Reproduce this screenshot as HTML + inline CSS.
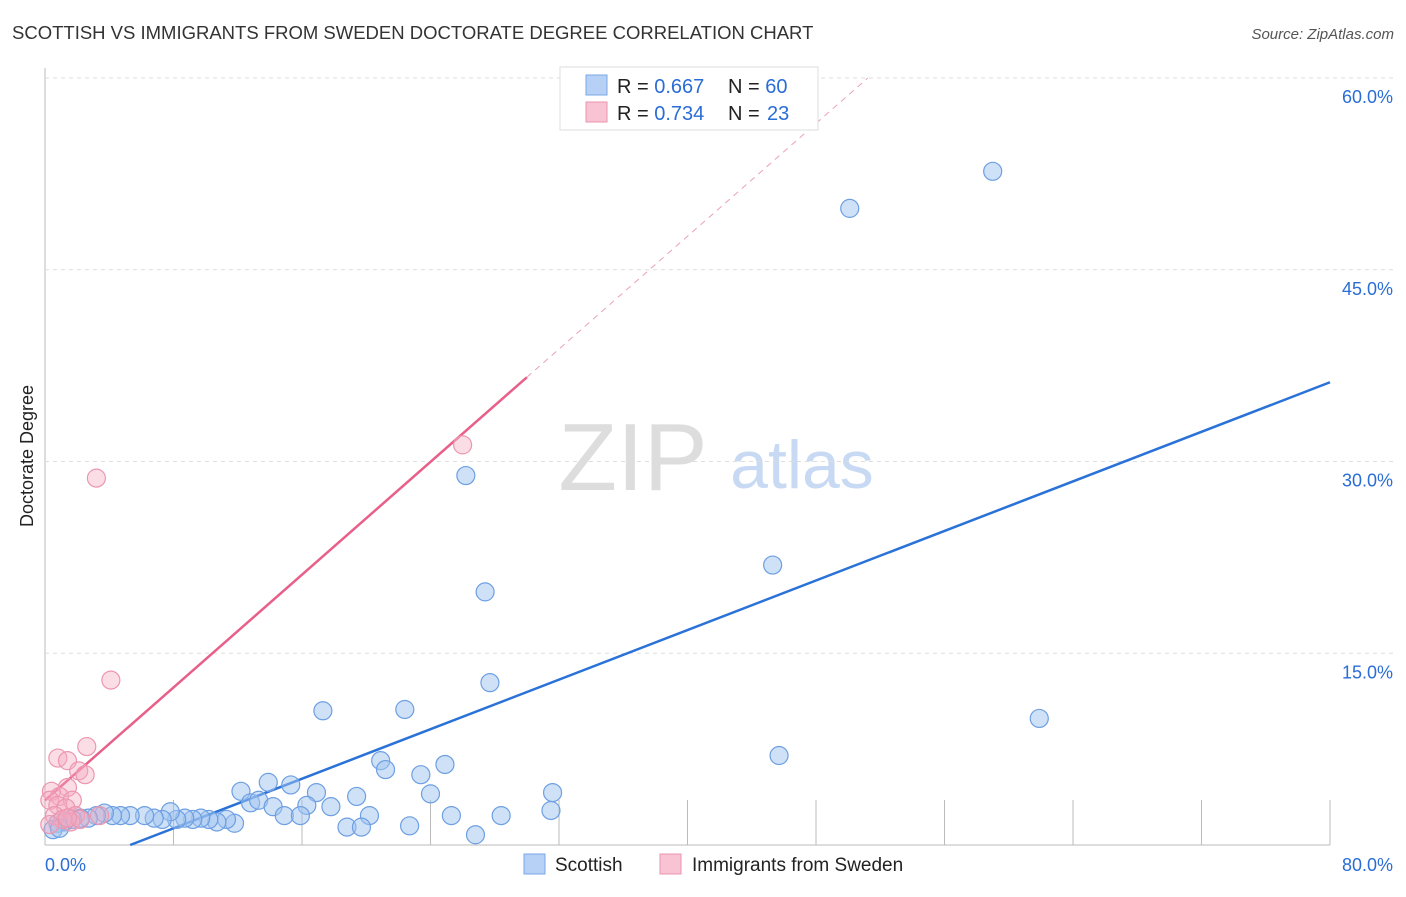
<!DOCTYPE html>
<html><head><meta charset="utf-8"><style>
body{margin:0;background:#fff;font-family:"Liberation Sans",sans-serif;}
svg text{font-family:"Liberation Sans",sans-serif;}
</style></head><body>
<svg id="chart" width="1406" height="892" viewBox="0 0 1406 892" xmlns="http://www.w3.org/2000/svg">
<text x="12" y="39" font-size="18.5" fill="#333">SCOTTISH VS IMMIGRANTS FROM SWEDEN DOCTORATE DEGREE CORRELATION CHART</text>
<text x="1394" y="39" font-size="15" fill="#555" font-style="italic" text-anchor="end">Source: ZipAtlas.com</text>
<text transform="translate(33,456) rotate(-90)" font-size="18" fill="#222" text-anchor="middle">Doctorate Degree</text>
<g>
<text x="633" y="490" font-size="96" font-family="Liberation Serif,serif" fill="#ddd" text-anchor="middle">ZIP</text>
<text x="802" y="488" font-size="68" fill="#c8daf3" text-anchor="middle">atlas</text>
</g>
<g id="grid"></g><g id="trend"></g><g id="pts"></g>
<g>
<rect x="560" y="67" width="258" height="63" fill="#fff" stroke="#ddd"/>
<rect x="586" y="75" width="21" height="20" fill="#b6d1f5" stroke="#7aa8e6"/>
<text x="617" y="93" font-size="20" fill="#222">R = <tspan fill="#2a6dd6">0.667</tspan></text>
<text x="728" y="93" font-size="20" fill="#222">N = <tspan fill="#2a6dd6">60</tspan></text>
<rect x="586" y="102" width="21" height="20" fill="#f8c4d4" stroke="#ec93ae"/>
<text x="617" y="120" font-size="20" fill="#222">R = <tspan fill="#2a6dd6">0.734</tspan></text>
<text x="728" y="120" font-size="20" fill="#222">N = <tspan x="767" fill="#2a6dd6">23</tspan></text>
</g>
<g>
<rect x="524" y="854" width="21" height="20" fill="#b6d1f5" stroke="#7aa8e6"/>
<text x="555" y="871" font-size="19" fill="#222">Scottish</text>
<rect x="660" y="854" width="21" height="20" fill="#f8c4d4" stroke="#ec93ae"/>
<text x="692" y="871" font-size="19" fill="#222">Immigrants from Sweden</text>
</g>
</svg>
<script>
const xTicks=[0,10,20,30,40,50,60,70,80];
const yTicks=[15,30,45,60];
const yTickLabels=["15.0%","30.0%","45.0%","60.0%"];
const xEndLabels=["0.0%","80.0%"];
const blueX=[59.0,50.1,26.2,27.4,45.3,27.7,17.3,22.4,61.9,45.7,20.9,21.2,23.4,24.9,31.6,24.0,12.2,13.9,15.3,16.9,19.4,12.8,13.3,14.2,16.3,17.8,14.9,15.9,20.2,25.3,28.4,31.5,18.8,19.7,22.7,26.8,11.8,11.3,10.7,10.2,9.7,9.2,8.7,8.2,7.8,7.3,6.8,6.2,5.3,4.7,4.2,3.7,3.2,2.7,2.2,1.7,1.2,0.8,0.5,0.9];
const blueY=[52.7,49.8,28.9,19.8,21.9,12.7,10.5,10.6,9.9,7.0,6.6,5.9,5.5,6.3,4.1,4.0,4.2,4.9,4.7,4.1,3.8,3.3,3.5,3.0,3.1,3.0,2.3,2.3,2.3,2.3,2.3,2.7,1.4,1.4,1.5,0.8,1.7,2.0,1.8,2.0,2.1,2.0,2.1,2.0,2.6,2.0,2.1,2.3,2.3,2.3,2.3,2.5,2.3,2.1,2.1,2.0,1.8,1.7,1.2,1.3];
const pinkX=[26.0,3.2,4.1,0.8,1.4,2.6,2.1,2.5,1.4,0.4,0.9,1.7,0.3,0.8,1.3,0.6,1.9,1.6,1.1,0.3,2.2,3.4,1.4];
const pinkY=[31.3,28.7,12.9,6.8,6.6,7.7,5.8,5.5,4.5,4.2,3.8,3.5,3.5,3.1,2.9,2.3,2.3,1.8,2.0,1.6,2.0,2.3,2.1];
const blueFit=[-2.57,0.4846];
const pinkFit=[3.5,1.103];
const NS="http://www.w3.org/2000/svg";
const X=v=>45+v*(1330-45)/80, Y=v=>845-v*(845-78)/60;
function mk(t,a,p){const e=document.createElementNS(NS,t);for(const k in a)e.setAttribute(k,a[k]);p.appendChild(e);return e;}
const grid=document.getElementById('grid');
let e=mk('line',{x1:45,y1:68,x2:45,y2:845,stroke:'#bbb'},grid);


e=mk('line',{x1:45,y1:845,x2:1330,y2:845,stroke:'#bbb'},grid);


yTicks.forEach((t,i)=>{
 const g=mk('line',{x1:45,x2:1394,y1:Y(t),y2:Y(t),stroke:'#ddd','stroke-dasharray':'4 4'},grid);
 
 
 const l=mk('text',{x:1393,y:Y(t)+25,'font-size':18,fill:'#2a6dd6','text-anchor':'end'},grid);
 l.textContent=yTickLabels[i];
 
 
});
for(let i=1;i<=10;i++){const v=i*8;const t=mk('line',{x1:X(v),x2:X(v),y1:800,y2:845,stroke:'#bbb'},grid);
 
 }
[[0,'start',45],[1,'end',1393]].forEach(([i,a,x])=>{const l=mk('text',{x:x,y:871,'font-size':18,fill:'#2a6dd6','text-anchor':a},grid);l.textContent=xEndLabels[i];
 
 });
const tr=document.getElementById('trend');
const bx0=-blueFit[0]/blueFit[1];
e=mk('line',{x1:X(bx0),y1:Y(0),x2:X(80),y2:Y(blueFit[0]+blueFit[1]*80),stroke:'#2a72d8','stroke-width':2.5},tr);


const px1=30,px2=(60-pinkFit[0])/pinkFit[1];
e=mk('line',{x1:X(0),y1:Y(pinkFit[0]),x2:X(px1),y2:Y(pinkFit[0]+pinkFit[1]*px1),stroke:'#e8608a','stroke-width':2.5},tr);


e=mk('line',{x1:X(px1),y1:Y(pinkFit[0]+pinkFit[1]*px1),x2:X(px2),y2:Y(60),stroke:'#eaa0b6','stroke-width':1,'stroke-dasharray':'6 5'},tr);


const pts=document.getElementById('pts');
blueX.forEach((v,i)=>{const c=mk('circle',{cx:X(v),cy:Y(blueY[i]),r:9,fill:'rgba(160,196,240,0.5)',stroke:'#6d9fe2','stroke-width':1.2},pts);
 
 });
pinkX.forEach((v,i)=>{const c=mk('circle',{cx:X(v),cy:Y(pinkY[i]),r:9,fill:'rgba(246,170,192,0.4)',stroke:'#ec96b0','stroke-width':1.2},pts);
 
 });
</script>
</body></html>
